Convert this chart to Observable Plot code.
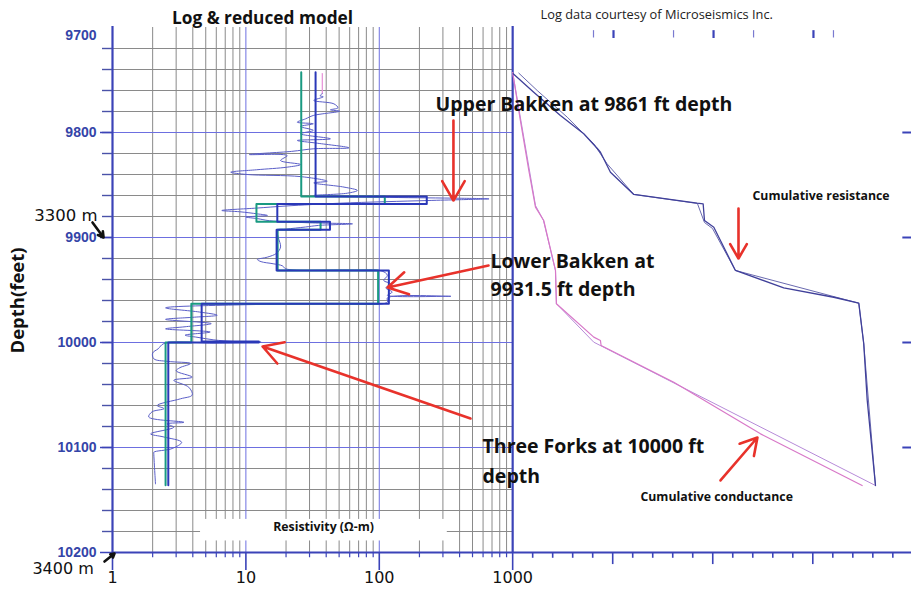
<!DOCTYPE html>
<html><head><meta charset="utf-8">
<script src="https://cdn.jsdelivr.net/npm/d3@7"></script>
<script src="https://cdn.jsdelivr.net/npm/@observablehq/plot@0.6"></script>
<style>
body{margin:0;background:#fff;}
#chart{width:911px;height:595px;}
</style></head><body><div id="chart"></div>
<script>
// ---------- tick labels ----------
const depthLabels = [9700, 9800, 9900, 10000, 10100, 10200];
const resistivityLabels = [1, 10, 100, 1000];

// ---------- raw resistivity log (depth ft, ohm-m) ----------
const logDepth = [9762.9,9765,9766,9769.5,9772.7,9776.5,9778.4,9779.7,9783.8,9787,9790.2,9791.7,9794.3,9798,9801.2,9806,9807.6,9810.2,9814.6,9815.5,9818,9821,9822,9826.7,9830.5,9833,9835.5,9837.8,9840,9842,9846.4,9848,9852,9855.2,9857.8,9860,9861.8,9862.6,9863.2,9864,9864.8,9867.3,9870,9872,9874.3,9875.5,9877.5,9879,9880.5,9882,9884,9886,9887,9888.5,9890,9892,9893,9900,9909,9915,9918.7,9921,9923,9925,9927,9929.8,9931,9932,9936,9941,9944,9948,9952,9955,9956,9957.5,9961.6,9963,9964,9967,9971,9974,9976,9978,9982,9985,9987,9990,9993,9995,9997.5,9999,9999.6,10000.5,10001,10006,10010,10015.5,10018,10020,10024,10027,10033,10036,10042.6,10050,10053.6,10060,10063,10066,10071,10076,10077.5,10080.7,10087,10090,10095,10101,10104.5,10106,10134.6];
const logRes = [37.4,36,38,32.3,45.7,49,43,50.5,32,28,24.3,32,25.7,32,25.7,43,24.3,34.3,59.3,32.3,22,10.6,20.4,18.2,25.7,20.4,12,7.7,10.2,25.7,40.7,32.3,54.4,68.5,57.6,32.3,120,400,665,400,228,51.3,20,12,6.6,9,12.2,14.5,10,12.2,15,30,63,35,28,20,17.2,17.5,18.2,17,14.5,12.2,13,16,18.8,19.9,60,105,115,108,121,112,125,115,344,115,115,40,10,2.5,4.5,6.1,4,2.5,5.5,3.5,2.5,5.4,3.5,4.3,5.75,8,13,6,2.43,2.2,2.0,2.04,2.6,3.85,3.2,3.0,3.96,2.88,3.73,3.96,3.24,2.16,2.43,1.98,1.87,3.43,2.57,2.88,1.93,2.43,3.3,2.8,2.04,2.04,2.1];
const pinkDepth = [9743.8, 9762.9];
const pinkRes = [37.4, 37.4];

// ---------- reduced (layered) models ----------
const blueTop  = [9742.6, 9861, 9868, 9885, 9892.7, 9931.4, 9963.2, 9999, 10000];
const blueBase = [9861, 9868, 9885, 9892.7, 9931.4, 9963.2, 9999, 10000, 10136];
const blueRes  = [33.3, 227, 17.2, 42.7, 17.0, 118, 4.66, 12.5, 2.62];
const tealTop  = [9742.6, 9861, 9868, 9885, 9892.7, 9931.4, 9963.2, 10000];
const tealBase = [9861, 9868, 9885, 9892.7, 9931.4, 9963.2, 10000, 10136];
const tealRes  = [26.0, 110, 12.0, 36.3, 17.3, 98, 3.9, 2.5];

// ---------- cumulative curves (right panel, normalised units 0..3) ----------
const cumResDepth = [9744.1,9761.6,9783.8,9801.2,9815,9818.8,9837.8,9859,9867.3,9867.9,9883.8,9890.2,9931.4,9947.9,9956.9,9962.6,10001.2,10055,10136.2];
const cumResValue = [0.004,0.158,0.358,0.533,0.633,0.658,0.733,0.908,1.383,1.428,1.438,1.508,1.67,2.032,2.407,2.595,2.632,2.658,2.72];
const cumResModelDepth = [9743.5,9760,9785.4,9810.8,9829.8,9859,9867.6,9885.7,9891.4,9931.4,9962.6,10001.2,10136.2];
const cumResModelValue = [0.046,0.184,0.409,0.608,0.708,0.908,1.385,1.438,1.498,1.67,2.595,2.632,2.72];
const cumCondDepth = [9742.9,9788.6,9836.2,9871.1,9883.8,9931.4,9963.1,9994.9,9998.1,10002.9,10037.8,10087,10136.2];
const cumCondValue = [0,0.058,0.121,0.171,0.233,0.321,0.328,0.608,0.658,0.663,1.208,1.858,2.62];
const cumCondModelDepth = [9742.9,9869.5,9883.8,9931.4,9963,9999.7,10136.2];
const cumCondModelValue = [0,0.171,0.231,0.321,0.328,0.608,2.72];

// ---------- annotations ----------
const arrowsRed = [
  {x1: 2.556, y1: 9788.6, x2: 2.556, y2: 9864.8},
  {x1: 2.819, y1: 9926.7, x2: 2.062, y2: 9947.6},
  {x1: 2.684, y1: 10072.4, x2: 1.125, y2: 10003.8},
  {x1: 4.693, y1: 9872.4, x2: 4.693, y2: 9920},
  {x1: 4.558, y1: 10131.4, x2: 4.835, y2: 10090.5}
];
const arrowsBlack = [
  {x1: -0.15, y1: 9885.7, x2: -0.067, y2: 9900},
  {x1: -0.06, y1: 10208.6, x2: 0.015, y2: 10201}
];
const bigLabels = [
  {x: 2.4215, y: 9773.3, t: "Upper Bakken at 9861 ft depth"},
  {x: 2.834, y: 9922.9, t: "Lower Bakken at"},
  {x: 2.834, y: 9949.5, t: "9931.5 ft depth"},
  {x: 2.774, y: 10099, t: "Three Forks at 10000 ft"},
  {x: 2.774, y: 10127.6, t: "depth"}
];
const smallLabels = [
  {x: 4.798, y: 9861, t: "Cumulative resistance"},
  {x: 3.958, y: 10147.6, t: "Cumulative conductance"}
];

// ---------- helpers ----------
const lg = v => Math.log10(v);
const PANEL = 3; // right panel starts at log10(1000)
const steps = (top, base, res) => top.flatMap((t, i) => [{x: lg(res[i]), y: t}, {x: lg(res[i]), y: base[i]}]);
const pts = (d, v, f) => d.map((y, i) => ({x: f(v[i]), y}));

const minorLogs = [];
for (let n = 0; n < 3; n++) for (let k = 2; k <= 9; k++) minorLogs.push(lg(k * 10 ** n));
const grid20 = d3.range(9720, 10200, 20).filter(d => d % 100 !== 0);
const all20 = d3.range(9720, 10200, 20);
const rightMinor = d3.range(1, 20).map(k => PANEL + k * 0.15).filter((_, i) => (i + 1) % 5 !== 0);
const rightMajor = [1, 2, 3].map(k => PANEL + k * 0.75);
const topTicksThin = [3.606, 4.206, 4.806, 5.405];
const topTicksBold = [3.756, 4.506, 5.255];

const BLUE = "#3b43b8";
const GRIDBLUE = "#6d6fe0";
const GRAY = "#8a8a8a";
const RED = "#e8322b";
const FONT = "Open Sans, sans-serif";
const fmtDepth = d => String(d);

const chart = Plot.plot({
  width: 911, height: 595,
  marginLeft: 112, marginRight: 0, marginTop: 27, marginBottom: 43,
  x: {domain: [0, 5.99], axis: null},
  y: {domain: [9700, 10200], reverse: true, axis: null},
  style: {background: "white", fontFamily: FONT, overflow: "visible"},
  marks: [
    // grid
    Plot.ruleY(grid20, {x1: 0, x2: PANEL, stroke: GRAY, strokeWidth: 1}),
    Plot.ruleX(minorLogs, {y1: 9700, y2: 10200, stroke: GRAY, strokeWidth: 1}),
    Plot.ruleX([1, 2], {y1: 9700, y2: 10200, stroke: GRIDBLUE, strokeWidth: 1}),
    Plot.ruleY([9800, 9900, 10000, 10100], {x1: 0, x2: PANEL, stroke: GRIDBLUE, strokeWidth: 1}),
    // label background
    Plot.rect([0], {x1: 0.66, x2: 2.51, y1: 10168.5, y2: 10189, fill: "white"}),
    // axis lines
    Plot.ruleX([0, PANEL], {y1: 9699, y2: 10200.5, stroke: BLUE, strokeWidth: 2.2}),
    Plot.ruleY([10200], {x1: 0, x2: 5.99, stroke: BLUE, strokeWidth: 2}),
    // y minor ticks
    Plot.ruleY(all20, {x1: -0.075, x2: 0, stroke: "#4a52a8", strokeWidth: 1.4}),
    Plot.axisY(depthLabels.slice(1), {anchor: "left", tickSize: 12, tickPadding: 4, stroke: BLUE, strokeWidth: 1.5, fill: "#3444a8", fontWeight: "bold", fontSize: 14, fontFamily: "Liberation Sans, Arial, sans-serif", tickFormat: fmtDepth, label: null}),
    Plot.axisY(depthLabels.slice(0, 1), {anchor: "left", tickSize: 0, tickPadding: 16, fill: "#3444a8", fontWeight: "bold", fontSize: 14, dy: 8, fontFamily: "Liberation Sans, Arial, sans-serif", tickFormat: fmtDepth, label: null}),
    // x ticks
    Plot.ruleX(minorLogs, {y1: 10200, y2: 10205, stroke: BLUE, strokeWidth: 1.2}),
    Plot.ruleX(rightMinor, {y1: 10200, y2: 10205.5, stroke: BLUE, strokeWidth: 1.6}),
    Plot.ruleX(rightMajor, {y1: 10200, y2: 10211.5, stroke: BLUE, strokeWidth: 1.6}),
    Plot.axisX([0, 1, 2, 3], {anchor: "bottom", tickSize: 18, tickPadding: 1, stroke: BLUE, strokeWidth: 1.6, fill: "#111", tickFormat: d => String(resistivityLabels[d]), fontSize: 16, fontFamily: "DejaVu Sans, sans-serif", label: null}),
    // right side depth ticks and top ticks
    Plot.ruleY([9800, 9900, 10000, 10100], {x1: 5.925, x2: 5.99, stroke: BLUE, strokeWidth: 2}),
    Plot.ruleX(topTicksThin, {y1: 9703, y2: 9710, stroke: "#7a7ad0", strokeWidth: 1.2}),
    Plot.ruleX(topTicksBold, {y1: 9703, y2: 9710.5, stroke: BLUE, strokeWidth: 2.2}),
    // log curves
    Plot.line(pts(pinkDepth, pinkRes, lg), {x: "x", y: "y", stroke: "#e68fd8", strokeWidth: 1.2}),
    Plot.line(pts(logDepth, logRes, lg), {x: "x", y: "y", stroke: "#5a5ec8", strokeWidth: 1, curve: "catmull-rom"}),
    Plot.line(steps(tealTop, tealBase, tealRes), {x: "x", y: "y", stroke: "#1a9a82", strokeWidth: 2}),
    Plot.line(steps(blueTop, blueBase, blueRes), {x: "x", y: "y", stroke: "#2a38b8", strokeWidth: 2}),
    // cumulative curves
    Plot.line(pts(cumCondModelDepth, cumCondModelValue, v => PANEL + v), {x: "x", y: "y", stroke: "#b68ad8", strokeWidth: 1}),
    Plot.line(pts(cumCondDepth, cumCondValue, v => PANEL + v), {x: "x", y: "y", stroke: "#d878c8", strokeWidth: 1.2}),
    Plot.line(pts(cumResModelDepth, cumResModelValue, v => PANEL + v), {x: "x", y: "y", stroke: "#6a6ab0", strokeWidth: 1}),
    Plot.line(pts(cumResDepth, cumResValue, v => PANEL + v), {x: "x", y: "y", stroke: "#40409a", strokeWidth: 1.3}),
    // arrows
    Plot.arrow(arrowsRed, {x1: "x1", y1: "y1", x2: "x2", y2: "y2", stroke: RED, strokeWidth: 2.6, headLength: 13}),
    Plot.arrow(arrowsBlack, {x1: "x1", y1: "y1", x2: "x2", y2: "y2", stroke: "#111", strokeWidth: 2.6, headLength: 7}),
    // texts
    Plot.text(bigLabels, {x: "x", y: "y", text: "t", textAnchor: "start", fontSize: 19.5, fontWeight: "bold", fill: "#111", fontFamily: FONT}),
    Plot.text(smallLabels, {x: "x", y: "y", text: "t", textAnchor: "start", fontSize: 12.3, fontWeight: "bold", fill: "#111", fontFamily: FONT}),
    Plot.text(["Resistivity (\u03A9-m)"], {x: 1.582, y: 10176.2, text: d => d, fontSize: 12.3, fontWeight: "bold", fill: "#111", fontFamily: FONT}),
    Plot.text(["Log & reduced model"], {x: 1.1245, y: 9691.4, text: d => d, fontSize: 17.3, fontWeight: "bold", fill: "#111", fontFamily: FONT}),
    Plot.text(["Log data courtesy of Microseismics Inc."], {x: 3.209, y: 9687.6, text: d => d, textAnchor: "start", fontSize: 12.8, fill: "#222", fontFamily: FONT}),
    Plot.text(["Depth(feet)"], {x: -0.705, y: 9960, text: d => d, rotate: -90, fontSize: 18.5, fontWeight: "bold", fill: "#111", fontFamily: FONT}),
    Plot.text(["3300 m"], {x: -0.112, y: 9879, text: d => d, textAnchor: "end", fontSize: 16.5, fill: "#111", fontFamily: "DejaVu Sans, sans-serif"}),
    Plot.text(["3400 m"], {x: -0.14, y: 10215.5, text: d => d, textAnchor: "end", fontSize: 16, fill: "#111", fontFamily: "DejaVu Sans, sans-serif"})
  ]
});
document.getElementById("chart").appendChild(chart);
</script>
</body></html>
